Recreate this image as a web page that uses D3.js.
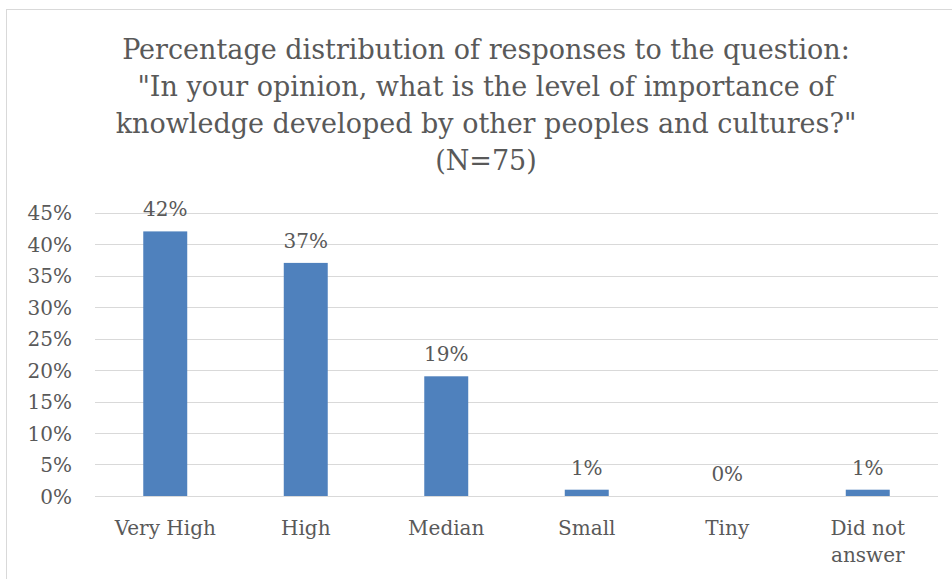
<!DOCTYPE html>
<html>
<head>
<meta charset="utf-8">
<script src="https://cdn.jsdelivr.net/npm/d3@7"></script>
<style>
  html, body { margin: 0; padding: 0; background: #fff; }
  svg { display: block; }
  text { font-family: "DejaVu Serif", "Liberation Serif", serif; fill: #595959; }
</style>
</head>
<body>
<svg id="chart" width="952" height="579"></svg>
<script>
// Survey responses (N=75)
const categories = [["Very High"], ["High"], ["Median"], ["Small"], ["Tiny"], ["Did not", "answer"]];
const values = [42, 37, 19, 1, 0, 1];
const yTicks = [0, 5, 10, 15, 20, 25, 30, 35, 40, 45];
const titleLines = [
  "Percentage distribution of responses to the question:",
  "\"In your opinion, what is the level of importance of",
  "knowledge developed by other peoples and cultures?\"",
  "(N=75)"
];

const svg = d3.select("#chart");
const plot = { left: 95, right: 938, top: 212.5, bottom: 496 };

// chart area frame
svg.append("rect")
  .attr("x", 6.5).attr("y", 9.5)
  .attr("width", 980).attr("height", 600)
  .attr("fill", "none").attr("stroke", "#d9d9d9").attr("stroke-width", 1);

// title
svg.append("g").selectAll("text")
  .data(titleLines)
  .join("text")
  .attr("x", 486)
  .attr("y", (d, i) => 59 + i * 37)
  .attr("text-anchor", "middle")
  .attr("font-size", 27)
  .text(d => d);

const x = d3.scaleBand()
  .domain(d3.range(categories.length))
  .range([plot.left, plot.right])
  .paddingInner(0.687)
  .paddingOuter(0.3435);

const y = d3.scaleLinear().domain([0, 45]).range([plot.bottom, plot.top]);

// gridlines
svg.append("g")
  .selectAll("line")
  .data(yTicks)
  .join("line")
  .attr("x1", plot.left).attr("x2", plot.right)
  .attr("y1", d => Math.round(y(d)) + 0.5).attr("y2", d => Math.round(y(d)) + 0.5)
  .attr("stroke", "#d9d9d9").attr("stroke-width", 1);

// y axis labels
const yAxis = d3.axisLeft(y).tickValues(yTicks).tickFormat(d => d + "%").tickSize(0).tickPadding(0);
const gy = svg.append("g").attr("transform", `translate(${72},0)`).call(yAxis);
gy.select(".domain").remove();
gy.selectAll("text")
  .attr("font-family", "DejaVu Serif")
  .attr("font-size", 20)
  .attr("fill", "#595959")
  .attr("dy", "0.35em");

// bars
svg.append("g")
  .selectAll("rect")
  .data(values)
  .join("rect")
  .attr("x", (d, i) => x(i))
  .attr("width", x.bandwidth())
  .attr("y", d => y(d))
  .attr("height", d => y(0) - y(d))
  .attr("fill", "#4f81bd");

// value labels
svg.append("g")
  .selectAll("text")
  .data(values)
  .join("text")
  .attr("x", (d, i) => x(i) + x.bandwidth() / 2)
  .attr("y", d => y(d) - 15)
  .attr("text-anchor", "middle")
  .attr("font-size", 20)
  .text(d => d + "%");

// category labels
const cat = svg.append("g")
  .selectAll("text")
  .data(categories)
  .join("text")
  .attr("x", (d, i) => x(i) + x.bandwidth() / 2)
  .attr("y", 535)
  .attr("text-anchor", "middle")
  .attr("font-size", 20);
cat.selectAll("tspan")
  .data(d => d)
  .join("tspan")
  .attr("x", function () { return d3.select(this.parentNode).attr("x"); })
  .attr("dy", (d, i) => i === 0 ? 0 : 27)
  .text(d => d);
</script>
</body>
</html>
